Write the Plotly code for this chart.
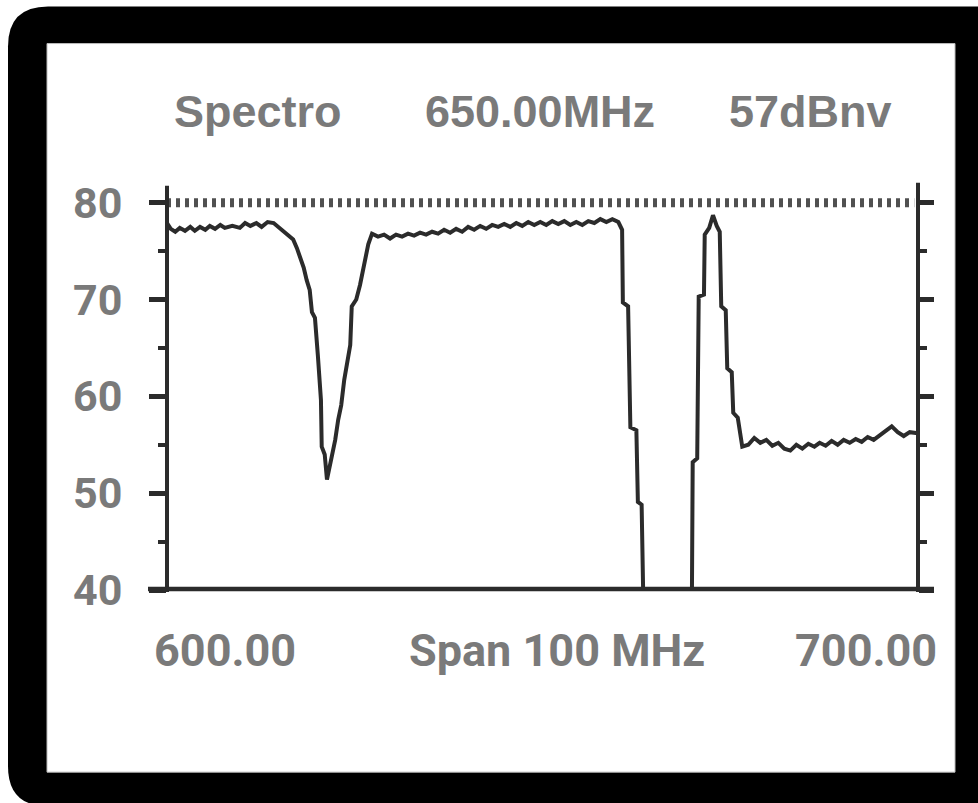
import plotly.graph_objects as go

# ---- data ----
freq_mhz = [600.0, 600.5, 601.1, 601.7, 602.4, 603.1, 603.7, 604.4, 605.1, 605.7, 606.4, 607.1, 607.7,
            608.7, 609.7, 610.4, 611.1, 611.9, 612.6, 613.4, 614.2, 615.0, 616.0, 616.8, 617.3, 617.8,
            618.2, 618.6, 619.0, 619.3, 619.7, 620.1, 620.5, 620.6, 621.0, 621.3, 621.7, 622.0, 622.4,
            622.8, 623.2, 623.6, 624.0, 624.4, 624.6, 625.2, 625.7, 626.2, 626.8, 627.3, 628.1, 628.9,
            629.7, 630.5, 631.3, 632.1, 632.9, 633.7, 634.5, 635.3, 636.1, 636.9, 637.7, 638.5, 639.3,
            640.1, 640.9, 641.7, 642.5, 643.3, 644.1, 644.9, 645.7, 646.5, 647.3, 648.1, 648.9, 649.7,
            650.5, 651.3, 652.1, 652.9, 653.7, 654.5, 655.3, 656.1, 656.9, 657.7, 658.5, 659.3, 660.1,
            660.6, 660.7, 661.4, 661.7, 662.5, 662.7, 663.2, 663.4, 669.9, 670.0, 670.6, 670.8, 671.5,
            671.6, 672.2, 672.7, 673.2, 673.6, 673.8, 674.4, 674.6, 675.2, 675.4, 676.0, 676.6, 677.4,
            678.2, 679.0, 679.8, 680.6, 681.4, 682.2, 683.0, 683.8, 684.6, 685.4, 686.2, 686.9, 687.7,
            688.5, 689.3, 690.1, 690.9, 691.7, 692.5, 693.3, 694.1, 694.9, 695.7, 696.5, 697.3, 698.1,
            698.9, 700.0]
level_dbnv = [77.9, 77.3, 77.0, 77.4, 77.1, 77.5, 77.1, 77.5, 77.2, 77.6, 77.3, 77.7, 77.4,
              77.6, 77.4, 77.9, 77.6, 77.9, 77.5, 78.0, 77.9, 77.4, 76.8, 76.2, 75.3, 74.3,
              73.3, 72.0, 71.0, 68.7, 68.1, 64.1, 59.6, 54.8, 54.0, 51.4, 52.9, 54.2, 55.5,
              57.6, 59.1, 61.7, 63.5, 65.3, 69.3, 70.0, 71.5, 73.3, 75.7, 76.8, 76.5, 76.7,
              76.3, 76.7, 76.5, 76.8, 76.6, 76.9, 76.7, 77.0, 76.8, 77.2, 76.9, 77.3, 77.0,
              77.5, 77.2, 77.6, 77.3, 77.7, 77.5, 77.8, 77.5, 77.9, 77.6, 78.0, 77.7, 78.0,
              77.7, 78.1, 77.8, 78.1, 77.7, 78.0, 77.7, 78.1, 77.9, 78.3, 78.0, 78.3, 78.0,
              77.2, 69.7, 69.3, 56.8, 56.5, 49.1, 48.8, 40.0, 40.0, 53.2, 53.6, 70.3, 70.5,
              76.7, 77.4, 78.7, 77.6, 77.0, 69.3, 68.9, 62.9, 62.5, 58.3, 57.8, 54.8, 55.0,
              55.7, 55.2, 55.5, 54.9, 55.2, 54.6, 54.4, 55.0, 54.6, 55.1, 54.8, 55.2, 54.9,
              55.4, 55.0, 55.5, 55.2, 55.6, 55.3, 55.8, 55.5, 56.0, 56.4, 56.9, 56.3, 55.9,
              56.3, 56.2]
ref_freq = [600.0, 699.5]
ref_level = [80, 80]
y_ticks = [40, 50, 60, 70, 80]
y_range = [40, 81]
header_texts = ["Spectro", "650.00MHz", "57dBnv"]
footer_texts = ["600.00", "Span 100 MHz", "700.00"]

# ---- geometry (pixels) ----
FW, FH = 978, 803
Y40, Y80 = 590.0, 203.0
unit = (Y40 - Y80) / 40.0
L, R = 167, 60
B = FH - Y40
T = Y40 - (y_range[1] - y_range[0]) * unit
W, H = FW - L - R, FH - T - B

def px(x):
    return (x - L) / W

def py(y):
    return (T + H - y) / H

GRAY = "#7a7a7a"
INK = "#2b2b2b"

fig = go.Figure()
fig.add_trace(go.Scatter(x=ref_freq, y=ref_level, mode="lines", yaxis="y2",
                         line=dict(color="#505050", width=9, dash="4px,5px"),
                         hoverinfo="skip", showlegend=False))
fig.add_trace(go.Scatter(x=freq_mhz, y=level_dbnv, mode="lines",
                         line=dict(color=INK, width=4, shape="linear"),
                         showlegend=False))

# frame: black rounded rectangle + white inner panel
x0, y0, x1, y1, r = 8, 7, 1010, 806, 40
path = (f"M {px(x0)},{py(y0 + r)} Q {px(x0)},{py(y0)} {px(x0 + r)},{py(y0)} "
        f"L {px(x1)},{py(y0)} L {px(x1)},{py(y1)} L {px(x0 + r)},{py(y1)} "
        f"Q {px(x0)},{py(y1)} {px(x0)},{py(y1 - r)} Z")
shapes = [
    dict(type="path", path=path, xref="paper", yref="paper", fillcolor="black",
         line=dict(width=0), layer="below"),
    dict(type="rect", xref="paper", yref="paper", x0=px(47), x1=px(955), y0=py(44), y1=py(772),
         fillcolor="white", line=dict(color="#bbbbbb", width=1), layer="below"),
    # axis lines
    dict(type="line", xref="paper", yref="paper", x0=0, x1=0, y0=py(592), y1=py(186),
         line=dict(color=INK, width=4), layer="above"),
    dict(type="line", xref="paper", yref="paper", x0=1, x1=1, y0=py(592), y1=py(183),
         line=dict(color=INK, width=4), layer="above"),
    dict(type="line", xref="paper", yref="paper", x0=px(148), x1=px(934), y0=py(589), y1=py(589),
         line=dict(color=INK, width=4.5), layer="above"),
]

font_head = dict(family="Liberation Sans, Arial, sans-serif", size=45, color=GRAY)
font_foot = dict(family="Roboto, sans-serif", size=45, color=GRAY)
annotations = []
for txt, cx in zip(header_texts, [258, 540, 810]):
    annotations.append(dict(text=f"<b>{txt}</b>", x=px(cx), y=py(112), xref="paper", yref="paper",
                            xanchor="center", yanchor="middle", showarrow=False, font=font_head))
for txt, cx in zip(footer_texts, [225, 557, 866]):
    annotations.append(dict(text=f"<b>{txt}</b>", x=px(cx), y=py(650), xref="paper", yref="paper",
                            xanchor="center", yanchor="middle", showarrow=False, font=font_foot))

fig.update_layout(
    width=FW, height=FH,
    margin=dict(l=L, r=R, t=T, b=B, pad=0),
    paper_bgcolor="white", plot_bgcolor="white",
    showlegend=False,
    shapes=shapes,
    annotations=annotations,
    xaxis=dict(range=[600, 700], showgrid=False, zeroline=False, showline=False,
               showticklabels=False, ticks="", fixedrange=True),
    yaxis=dict(range=y_range, tickvals=y_ticks, ticktext=[f"<b>{v}</b>" for v in y_ticks],
               ticks="outside", ticklen=17, tickwidth=5, tickcolor=INK,
               minor=dict(tickvals=[45, 55, 65, 75], ticks="outside", ticklen=8, tickwidth=4,
                          tickcolor=INK, showgrid=False),
               ticklabelstandoff=18,
               tickfont=dict(family="Roboto, sans-serif", size=43, color=GRAY),
               showgrid=False, zeroline=False, showline=False, fixedrange=True),
    yaxis2=dict(range=y_range, overlaying="y", side="right", tickvals=y_ticks,
                ticks="outside", ticklen=15, tickwidth=5, tickcolor=INK, showticklabels=False,
                minor=dict(tickvals=[45, 55, 65, 75], ticks="outside", ticklen=8, tickwidth=4,
                           tickcolor=INK, showgrid=False),
                showgrid=False, zeroline=False, showline=False, fixedrange=True),
)

fig.write_html("out.html", config={"displayModeBar": False},
               post_script="document.body.style.margin='0px';")
